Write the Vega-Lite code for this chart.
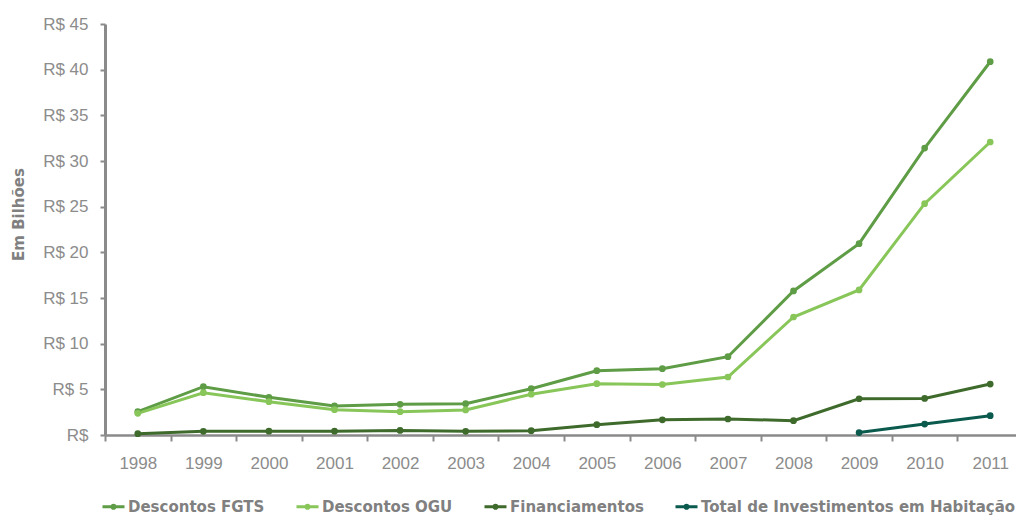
{
  "$schema": "https://vega.github.io/schema/vega-lite/v6.json",
  "autosize": {"type": "none"},
  "width": 911,
  "height": 411,
  "padding": {"left": 105, "top": 24, "right": 0, "bottom": 80},
  "background": "white",
  "data": {
    "values": [
      {"ano": "1998", "serie": "Descontos FGTS", "valor": 2.55},
      {"ano": "1999", "serie": "Descontos FGTS", "valor": 5.29},
      {"ano": "2000", "serie": "Descontos FGTS", "valor": 4.13},
      {"ano": "2001", "serie": "Descontos FGTS", "valor": 3.18},
      {"ano": "2002", "serie": "Descontos FGTS", "valor": 3.36},
      {"ano": "2003", "serie": "Descontos FGTS", "valor": 3.43},
      {"ano": "2004", "serie": "Descontos FGTS", "valor": 5.07},
      {"ano": "2005", "serie": "Descontos FGTS", "valor": 7.04},
      {"ano": "2006", "serie": "Descontos FGTS", "valor": 7.26},
      {"ano": "2007", "serie": "Descontos FGTS", "valor": 8.57},
      {"ano": "2008", "serie": "Descontos FGTS", "valor": 15.77},
      {"ano": "2009", "serie": "Descontos FGTS", "valor": 20.95},
      {"ano": "2010", "serie": "Descontos FGTS", "valor": 31.42},
      {"ano": "2011", "serie": "Descontos FGTS", "valor": 40.87},
      {"ano": "1998", "serie": "Descontos OGU", "valor": 2.37},
      {"ano": "1999", "serie": "Descontos OGU", "valor": 4.63},
      {"ano": "2000", "serie": "Descontos OGU", "valor": 3.65},
      {"ano": "2001", "serie": "Descontos OGU", "valor": 2.77},
      {"ano": "2002", "serie": "Descontos OGU", "valor": 2.55},
      {"ano": "2003", "serie": "Descontos OGU", "valor": 2.74},
      {"ano": "2004", "serie": "Descontos OGU", "valor": 4.46},
      {"ano": "2005", "serie": "Descontos OGU", "valor": 5.62},
      {"ano": "2006", "serie": "Descontos OGU", "valor": 5.53},
      {"ano": "2007", "serie": "Descontos OGU", "valor": 6.35},
      {"ano": "2008", "serie": "Descontos OGU", "valor": 12.92},
      {"ano": "2009", "serie": "Descontos OGU", "valor": 15.88},
      {"ano": "2010", "serie": "Descontos OGU", "valor": 25.33},
      {"ano": "2011", "serie": "Descontos OGU", "valor": 32.08},
      {"ano": "1998", "serie": "Financiamentos", "valor": 0.15},
      {"ano": "1999", "serie": "Financiamentos", "valor": 0.4},
      {"ano": "2000", "serie": "Financiamentos", "valor": 0.42},
      {"ano": "2001", "serie": "Financiamentos", "valor": 0.42},
      {"ano": "2002", "serie": "Financiamentos", "valor": 0.5},
      {"ano": "2003", "serie": "Financiamentos", "valor": 0.4},
      {"ano": "2004", "serie": "Financiamentos", "valor": 0.47},
      {"ano": "2005", "serie": "Financiamentos", "valor": 1.13},
      {"ano": "2006", "serie": "Financiamentos", "valor": 1.66},
      {"ano": "2007", "serie": "Financiamentos", "valor": 1.75},
      {"ano": "2008", "serie": "Financiamentos", "valor": 1.57},
      {"ano": "2009", "serie": "Financiamentos", "valor": 3.97},
      {"ano": "2010", "serie": "Financiamentos", "valor": 4.0},
      {"ano": "2011", "serie": "Financiamentos", "valor": 5.58},
      {"ano": "2009", "serie": "Total de Investimentos em Habitação", "valor": 0.27},
      {"ano": "2010", "serie": "Total de Investimentos em Habitação", "valor": 1.2},
      {"ano": "2011", "serie": "Total de Investimentos em Habitação", "valor": 2.11}
    ]
  },
  "mark": {
    "type": "line",
    "strokeWidth": 3,
    "point": {"filled": true, "size": 45}
  },
  "encoding": {
    "x": {
      "field": "ano",
      "type": "ordinal",
      "sort": null,
      "scale": {
        "type": "band",
        "domain": ["1998", "1999", "2000", "2001", "2002", "2003", "2004", "2005", "2006", "2007", "2008", "2009", "2010", "2011"],
        "range": [0, 918],
        "paddingInner": 0,
        "paddingOuter": 0
      },
      "axis": {
        "title": null,
        "labelAngle": 0,
        "labelFont": "Liberation Sans",
        "labelFontSize": 17,
        "labelColor": "#8c8c8c",
        "labelPadding": 14,
        "tickBand": "extent",
        "tickSize": 6,
        "tickWidth": 2,
        "tickColor": "#8a8a8a",
        "domainColor": "#8a8a8a",
        "domainWidth": 2.5,
        "grid": false,
        "labelOverlap": false
      }
    },
    "y": {
      "field": "valor",
      "type": "quantitative",
      "scale": {"domain": [0, 45], "nice": false, "zero": true},
      "axis": {
        "title": "Em Bilhões",
        "titleFont": "DejaVu Sans",
        "titleFontWeight": "bold",
        "titleFontSize": 15,
        "titleColor": "#808080",
        "titleAngle": -90,
        "titleX": -87,
        "titleY": 190,
        "titleAlign": "center",
        "titleBaseline": "middle",
        "values": [0, 5, 10, 15, 20, 25, 30, 35, 40, 45],
        "labelExpr": "datum.value == 0 ? 'R$' : 'R$ ' + datum.value",
        "labelFont": "Liberation Sans",
        "labelFontSize": 17,
        "labelColor": "#8c8c8c",
        "labelPadding": 12,
        "tickSize": 5,
        "tickWidth": 2,
        "tickColor": "#8a8a8a",
        "domainColor": "#8a8a8a",
        "domainWidth": 3,
        "grid": false
      }
    },
    "color": {
      "field": "serie",
      "type": "nominal",
      "scale": {
        "domain": ["Descontos FGTS", "Descontos OGU", "Financiamentos", "Total de Investimentos em Habitação"],
        "range": ["#5e9c45", "#88c659", "#3e6b2c", "#0a5a4e"]
      },
      "legend": {
        "title": null,
        "orient": "none",
        "direction": "horizontal",
        "legendX": -4,
        "legendY": 470,
        "symbolType": "M-1,0H1M-0.14,0A0.14,0.14 0 1,0 0.14,0A0.14,0.14 0 1,0 -0.14,0",
        "symbolSize": 484,
        "symbolStrokeWidth": 3,
        "labelFont": "DejaVu Sans",
        "labelFontWeight": "bold",
        "labelFontSize": 15,
        "labelColor": "#808080",
        "labelOffset": 2,
        "columnPadding": 25,
        "labelLimit": 0
      }
    }
  },
  "config": {
    "view": {"stroke": null}
  }
}
